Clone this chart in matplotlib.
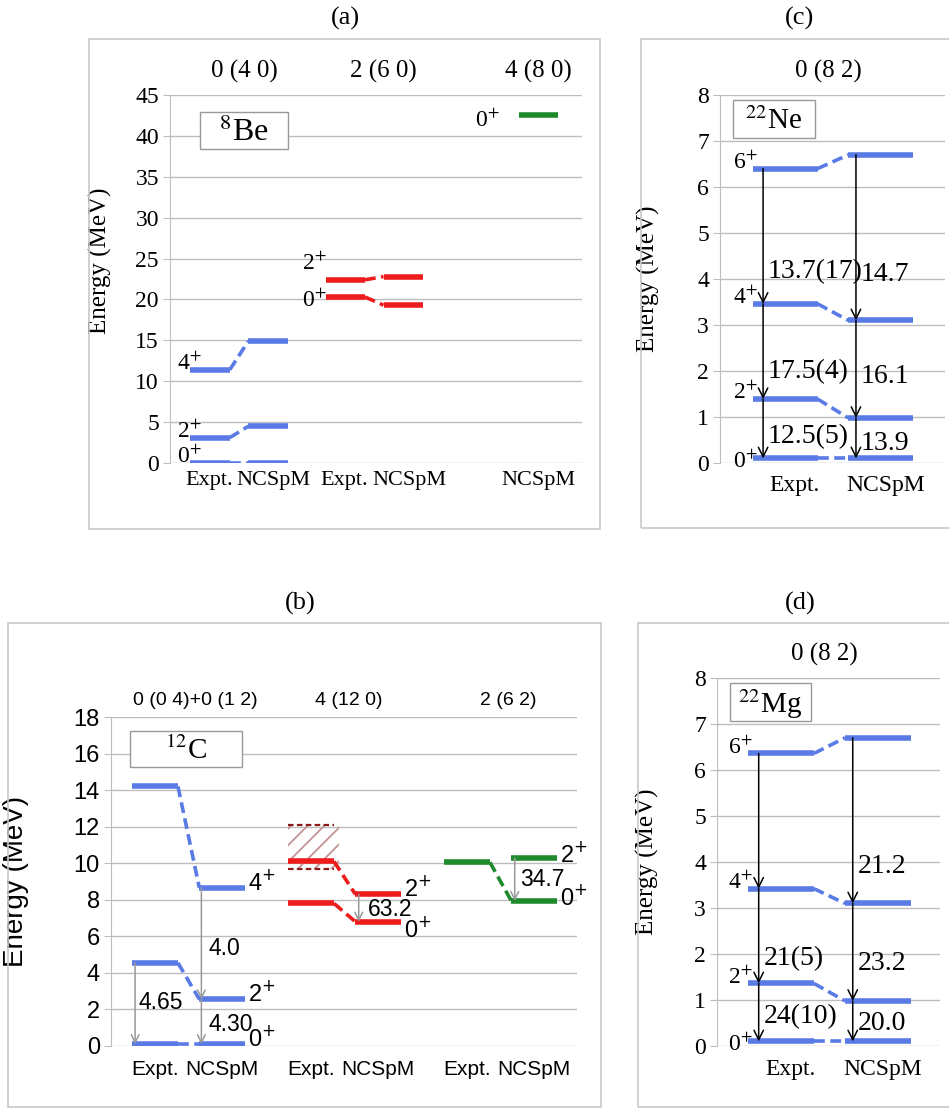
import matplotlib
matplotlib.use('Agg')
import matplotlib.pyplot as plt
from matplotlib.patches import Rectangle
import numpy as np

W, H = 949, 1115
SERIF = 'Liberation Serif'
SANS = 'Liberation Sans'
BLUE = '#5a7ae6'
RED = '#ee1c1c'
GREEN = '#1f8a2c'
GRID = '#bdbdbd'
FRAME = '#c8c8c8'

# ---- (a) 8Be ----
be_headers = ['0 (4 0)', '2 (6 0)', '4 (8 0)']
be_J1 = ['0', '2', '4']
be_expt1 = [0.0, 3.1, 11.4]
be_ncspm1 = [0.0, 4.5, 14.9]
be_J2 = ['0', '2']
be_expt2 = [20.3, 22.4]
be_ncspm2 = [19.3, 22.8]
be_J3 = ['0']
be_ncspm3 = [42.5]
be_yticks = [0, 5, 10, 15, 20, 25, 30, 35, 40, 45]

# ---- (b) 12C ----
c_headers = ['0 (0 4)+0 (1 2)', '4 (12 0)', '2 (6 2)']
c_J1 = ['0', '2', '4']
c_expt1 = [0.1, 4.55, 14.2]
c_ncspm1 = [0.1, 2.55, 8.65]
c_J2 = ['0', '2']
c_expt2 = [7.8, 10.1]
c_ncspm2 = [6.8, 8.3]
c_band2 = [9.7, 12.1]
c_J3 = ['0', '2']
c_expt3 = [10.05, np.nan]
c_ncspm3 = [7.93, 10.28]
c_be2 = ['4.65', '4.0', '4.30', '63.2', '34.7']
c_yticks = [0, 2, 4, 6, 8, 10, 12, 14, 16, 18]

# ---- (c) 22Ne / (d) 22Mg ----
sd_J = ['0', '2', '4', '6']
ne_expt = [0.1, 1.39, 3.46, 6.4]
ne_ncspm = [0.1, 0.98, 3.1, 6.7]
ne_be2_expt = ['12.5(5)', '17.5(4)', '13.7(17)']
ne_be2_ncspm = ['13.9', '16.1', '14.7']
mg_expt = [0.1, 1.36, 3.42, 6.36]
mg_ncspm = [0.1, 0.98, 3.1, 6.7]
mg_be2_expt = ['24(10)', '21(5)', '']
mg_be2_ncspm = ['20.0', '23.2', '21.2']
sd_yticks = [0, 1, 2, 3, 4, 5, 6, 7, 8]

HW = 0.34      # half width of a level line (category units)
GAP = 2.33     # distance between groups in (a) and (b)
plt.rcParams['hatch.linewidth'] = 1.3

fig = plt.figure(figsize=(W / 100, H / 100), dpi=100)


def mkax(l, r, t, b):
    return fig.add_axes([l / W, 1 - b / H, (r - l) / W, (b - t) / H])


def frame(l, t, r, b):
    fig.add_artist(Rectangle((l / W, 1 - b / H), (r - l) / W, (b - t) / H,
                             transform=fig.transFigure, fill=False,
                             ec=FRAME, lw=1.2))


def style(ax, ylim, xlim, yticks, fam, tsize):
    ax.set_ylim(ylim)
    ax.set_xlim(xlim)
    ax.set_yticks(yticks, [str(v) for v in yticks], fontfamily=fam, fontsize=tsize)
    ax.grid(axis='y', color=GRID, lw=1)
    ax.set_axisbelow(True)
    for s in ['top', 'right', 'bottom']:
        ax.spines[s].set_visible(False)
    ax.spines['left'].set_color(GRID)
    ax.tick_params(axis='y', length=5, color=GRID, pad=3)
    ax.tick_params(axis='x', length=0)


def levels(ax, xe, xn, Ee, En, color, lw=4):
    for a, b in zip(Ee, En):
        if xe is not None and not np.isnan(a):
            ax.plot([xe - HW, xe + HW], [a, a], color=color, lw=lw, solid_capstyle='butt')
        if not np.isnan(b):
            ax.plot([xn - HW, xn + HW], [b, b], color=color, lw=lw, solid_capstyle='butt')
        if xe is not None and not np.isnan(a) and not np.isnan(b):
            ax.plot([xe + HW, xn - HW], [a, b], color=color, lw=2.6, ls=(0, (3, 1.5)))


def arrow(ax, x, e0, e1, color, ms=14):
    ax.annotate('', xy=(x, e1), xytext=(x, e0),
                arrowprops=dict(arrowstyle='->', color=color, lw=1.1,
                                shrinkA=0, shrinkB=0, mutation_scale=ms))


def namebox(ax, x0, x1, y0, y1, txt, size):
    ax.add_patch(Rectangle((x0, y0), x1 - x0, y1 - y0, transform=ax.transAxes,
                           fc='white', ec='#999999', lw=1, zorder=3))
    ax.text((x0 + x1) / 2, (y0 + y1) / 2 - 0.005, txt, transform=ax.transAxes,
            ha='center', va='center', fontsize=size, fontfamily=SERIF,
            math_fontfamily='stix', zorder=4)


def sup(j):
    return j + '$^{+}$'


# panel titles
for lab, x, y in [('(a)', 345, 18), ('(c)', 800, 18), ('(b)', 300, 603), ('(d)', 800, 603)]:
    fig.text(x / W, 1 - y / H, lab, ha='center', va='center', fontsize=19, fontfamily=SERIF)

frame(89, 39, 600, 529)
frame(641, 39, 953, 528)
frame(8, 623, 601, 1107)
frame(638, 623, 953, 1107)

# ================= (a) =================
ax = mkax(170, 582, 95, 463)
style(ax, (0, 45), (-0.69, 6.41), be_yticks, SERIF, 17)
xa = [-0.02, 1.1, GAP - 0.02, GAP + 1.1, 2 * GAP + 1]
ax.set_xticks(xa, ['Expt.', 'NCSpM', 'Expt.', 'NCSpM', 'NCSpM'],
              fontfamily=SERIF, fontsize=16)
ax.tick_params(axis='x', pad=6)
levels(ax, 0, 1, be_expt1, be_ncspm1, BLUE)
levels(ax, GAP, GAP + 1, be_expt2, be_ncspm2, RED)
levels(ax, None, 2 * GAP + 1, [np.nan], be_ncspm3, GREEN)
for j, e in zip(be_J1, be_expt1):
    ax.text(-HW + 0.2, e, sup(j), ha='right', va='baseline', fontsize=17,
            fontfamily=SERIF, math_fontfamily='stix')
ax.text(GAP - HW + 0.02, be_expt2[1] + 1.2, sup(be_J2[1]), ha='right', va='baseline',
        fontsize=17, fontfamily=SERIF, math_fontfamily='stix')
ax.text(GAP - HW + 0.02, be_expt2[0] - 1.2, sup(be_J2[0]), ha='right', va='baseline',
        fontsize=17, fontfamily=SERIF, math_fontfamily='stix')
ax.text(2 * GAP + 1 - HW - 0.33, be_ncspm3[0] - 1.4, sup(be_J3[0]), ha='right', va='baseline',
        fontsize=17, fontfamily=SERIF, math_fontfamily='stix')
for h, x in zip(be_headers, [0.6, GAP + 0.65, 2 * GAP + 1]):
    ax.text(x, 1.063, h, transform=ax.get_xaxis_transform(), ha='center', va='center',
            fontsize=18, fontfamily=SERIF)
namebox(ax, 0.073, 0.286, 0.853, 0.954, '$^{8}$Be', 23)
ax.set_ylabel('Energy (MeV)', fontfamily=SERIF, fontsize=18)
ax.yaxis.set_label_coords(-0.141, 0.55)

# ================= (b) =================
ax = mkax(111, 577, 717, 1046)
style(ax, (0, 18), (-0.66, 6.3), c_yticks, SANS, 17)
xb = [0, 1, GAP, GAP + 1, 2 * GAP, 2 * GAP + 1]
ax.set_xticks(xb, ['Expt.', 'NCSpM'] * 3, fontfamily=SANS, fontsize=15)
ax.tick_params(axis='x', pad=10)
# hatched band of the broad 2+ state
ax.fill_between([GAP - HW, GAP + HW + 0.08], c_band2[0], c_band2[1], facecolor='none',
                edgecolor='#c49494', hatch='//', lw=0)
for e in c_band2:
    ax.plot([GAP - HW, GAP + HW], [e, e], color='#8b1a1a', lw=1.6, ls=(0, (2.5, 1.5)))
levels(ax, 0, 1, c_expt1, c_ncspm1, BLUE)
levels(ax, GAP, GAP + 1, c_expt2, c_ncspm2, RED)
levels(ax, 2 * GAP, 2 * GAP + 1, c_expt3, c_ncspm3, GREEN)
arrow(ax, -0.3, c_expt1[1], c_expt1[0], '#999999')
arrow(ax, 1 - 0.31, c_ncspm1[2], c_ncspm1[1], '#999999')
arrow(ax, 1 - 0.31, c_ncspm1[1], c_ncspm1[0], '#999999')
arrow(ax, GAP + 1 - 0.29, c_ncspm2[1], c_ncspm2[0], '#999999')
arrow(ax, 2 * GAP + 1 - 0.29, c_ncspm3[1], c_ncspm3[0], '#999999')
for txt, x, y in zip(c_be2, [-0.25, 0.79, 0.79, GAP + 1 - 0.15, 2 * GAP + 1 - 0.21],
                     [2.4, 5.35, 1.15, 7.45, 9.1]):
    ax.text(x, y, txt, ha='left', va='center', fontsize=16.5, fontfamily=SANS)
for j, e in zip(c_J1, c_ncspm1):
    ax.text(1 + HW + 0.05, e + 0.3, sup(j), ha='left', va='center', fontsize=17,
            fontfamily=SANS, math_fontfamily='dejavusans')
for j, e, dy in zip(c_J2, c_ncspm2, [-0.4, 0.3]):
    ax.text(GAP + 1 + HW + 0.05, e + dy, sup(j), ha='left', va='center', fontsize=17,
            fontfamily=SANS, math_fontfamily='dejavusans')
for j, e in zip(c_J3, c_ncspm3):
    ax.text(2 * GAP + 1 + HW + 0.05, e + 0.2, sup(j), ha='left', va='center', fontsize=17,
            fontfamily=SANS, math_fontfamily='dejavusans')
for h, x in zip(c_headers, [0.6, GAP + 0.56, 2 * GAP + 0.62]):
    ax.text(x, 1.05, h, transform=ax.get_xaxis_transform(), ha='center', va='center',
            fontsize=14, fontfamily=SANS)
namebox(ax, 0.041, 0.281, 0.848, 0.957, '$^{12}$C', 21)
ax.set_ylabel('Energy (MeV)', fontfamily=SANS, fontsize=20)
ax.yaxis.set_label_coords(-0.175, 0.5)


# ================= (c), (d) =================
def sd_panel(rect, xlim, expt, ncspm, lab_e, lab_n, ye, yn, name, lx):
    ax = mkax(*rect)
    style(ax, (0, 8), xlim, sd_yticks, SERIF, 17)
    ax.set_xticks([0.1, 1.05], ['Expt.', 'NCSpM'], fontfamily=SERIF, fontsize=17)
    ax.tick_params(axis='x', pad=9)
    levels(ax, 0, 1, expt, ncspm, BLUE)
    for k in range(3):
        arrow(ax, -0.23, expt[k + 1], expt[k], 'k', 17)
        arrow(ax, 1 - 0.26, ncspm[k + 1], ncspm[k], 'k', 17)
    for txt, y in zip(lab_e, ye):
        ax.text(-0.18, y, txt, ha='left', va='center', fontsize=20, fontfamily=SERIF)
    for txt, y in zip(lab_n, yn):
        ax.text(0.79, y, txt, ha='left', va='center', fontsize=20, fontfamily=SERIF)
    for j, e in zip(sd_J, expt):
        ax.text(-HW + 0.05, e - (0.2 if j == '0' else 0), sup(j), ha='right',
                va='baseline', fontsize=17, fontfamily=SERIF, math_fontfamily='stix')
    ax.text(0.45, 1.063, '0 (8 2)', transform=ax.get_xaxis_transform(), ha='center',
            va='center', fontsize=18, fontfamily=SERIF)
    namebox(ax, 0.058, 0.42, 0.883, 0.986, name, 21)
    ax.set_ylabel('Energy (MeV)', fontfamily=SERIF, fontsize=18)
    ax.yaxis.set_label_coords(lx, 0.5)


sd_panel((720, 945, 95, 463), (-0.68, 1.67), ne_expt, ne_ncspm, ne_be2_expt, ne_be2_ncspm,
         [0.57, 1.98, 4.15], [0.43, 1.87, 4.1], '$^{22}$Ne', -0.267)
sd_panel((717, 940, 678, 1046), (-0.66, 1.64), mg_expt, mg_ncspm, mg_be2_expt, mg_be2_ncspm,
         [0.63, 1.9, 0], [0.5, 1.8, 3.9], '$^{22}$Mg', -0.26)

fig.savefig('out.png', dpi=100)
